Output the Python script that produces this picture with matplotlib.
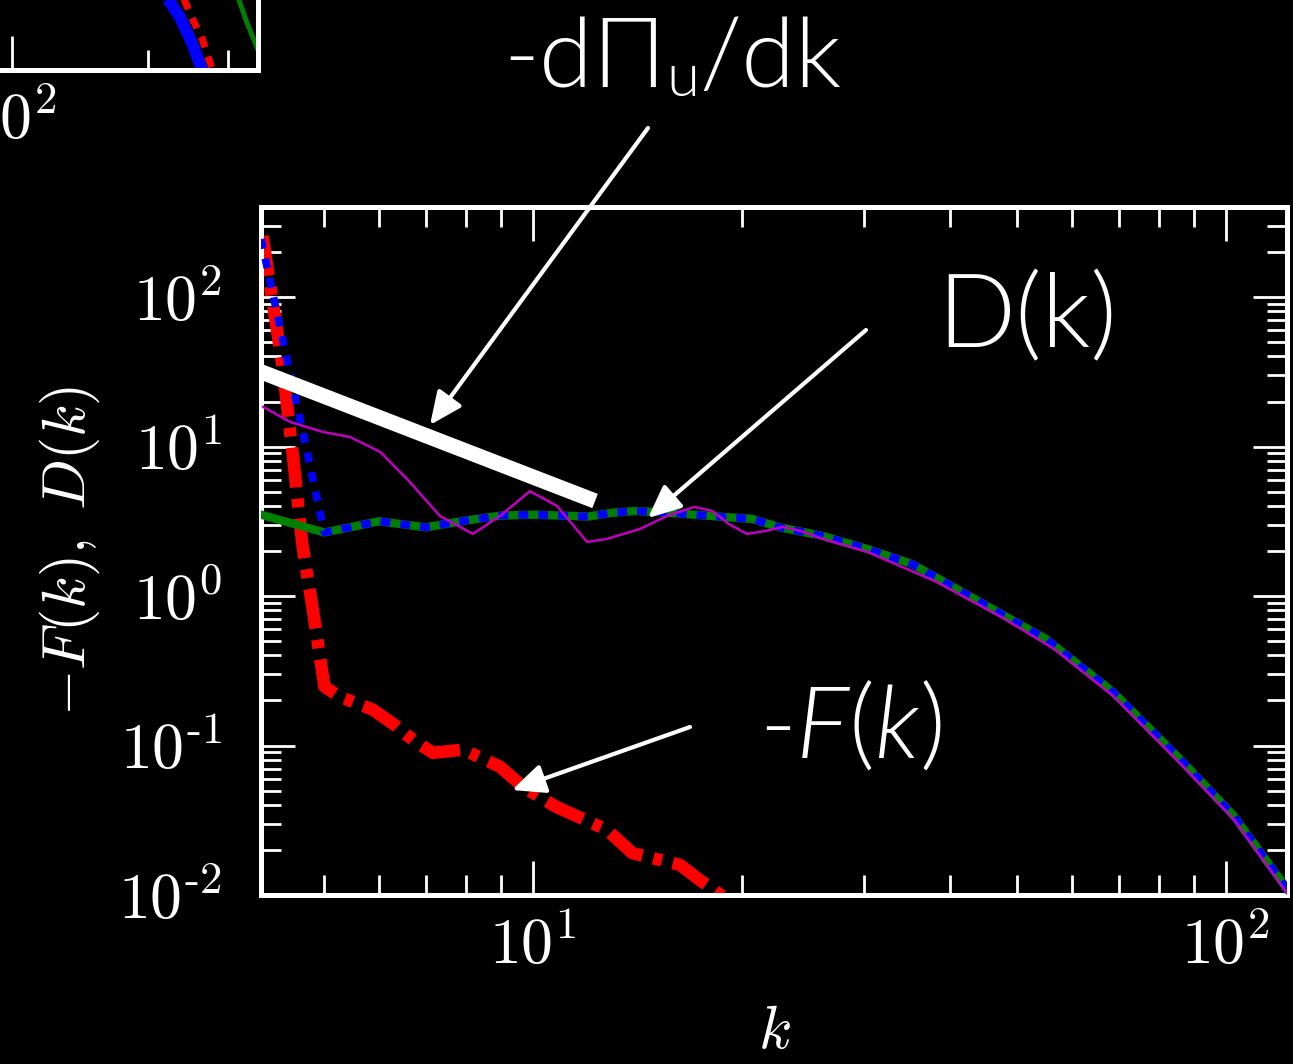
import os
import numpy as np
import matplotlib
matplotlib.use('Agg')
import matplotlib.pyplot as plt
from matplotlib.ticker import LogLocator, NullFormatter, FuncFormatter
from matplotlib.font_manager import FontProperties, fontManager

# ---------------- data ----------------
# main panel
k_D = [4.05, 5, 6, 7, 8, 9, 10, 11, 12, 13, 14, 15, 16.8, 18.5, 20.7, 22.7,
       26.2, 30.4, 35.2, 43.4, 55.0, 68.7, 85.8, 102.7, 122.5]
D_green = [3.5, 2.66, 3.16, 2.88, 3.2, 3.45, 3.5, 3.45, 3.4, 3.6, 3.7, 3.65, 3.52,
           3.4, 3.28, 2.88, 2.52, 2.06, 1.64, 0.954, 0.515, 0.228, 0.0813, 0.0337, 0.011]
D_blue = [244, 2.66, 3.16, 2.88, 3.2, 3.45, 3.5, 3.45, 3.4, 3.6, 3.7, 3.65, 3.52,
          3.4, 3.28, 2.88, 2.52, 2.06, 1.64, 0.954, 0.515, 0.228, 0.0813, 0.0337, 0.011]

k_F = [4.07, 4.35, 4.5, 4.65, 4.81, 5.0, 5.26, 5.87, 6.36, 6.71, 7.17, 7.93, 8.96,
       9.67, 10.8, 12.8, 13.9, 15.3, 16.3, 17.4, 18.5, 20.0]
F_red = [256, 34.5, 8.87, 2.15, 0.813, 0.248, 0.212, 0.174, 0.134, 0.109, 0.0894,
         0.0938, 0.0722, 0.053, 0.0389, 0.0272, 0.0191, 0.0171, 0.0159, 0.0126, 0.0103, 0.0078]

k_M = [4.08, 4.46, 4.98, 5.44, 6.02, 6.58, 7.34, 8.19, 8.96, 9.90, 10.83, 11.97, 12.79,
       14.27, 15.61, 17.08, 18.13, 19.18, 20.36, 21.61, 22.95, 24.36, 26.2, 30.4, 38.0,
       47.5, 56.6, 68.7, 85.8, 102.7, 122.5]
M_magenta = [18.4, 14.6, 12.5, 11.6, 9.19, 6.06, 3.43, 2.60, 3.43, 5.03, 4.00, 2.30, 2.41,
             2.81, 3.43, 3.94, 3.71, 3.03, 2.60, 2.72, 2.90, 2.72, 2.41, 1.97, 1.26,
             0.72, 0.44, 0.215, 0.076, 0.032, 0.0103]

k_slope = [4.0, 12.29]
y_slope = [32.3, 4.32]

# partially visible neighbouring panel (top-left corner)
inset_k_blue = [216, 235, 250, 266]
inset_blue = [8.3e-4, 4.2e-4, 2.08e-4, 8.7e-5]
inset_k_red = [238, 250, 263, 280]
inset_red = [7.6e-4, 4.1e-4, 2.38e-4, 8.7e-5]
inset_k_green = [316, 331, 345, 357]
inset_green = [7.2e-4, 3.57e-4, 2.08e-4, 1.31e-4]

# ---------------- style ----------------
plt.rcParams['font.family'] = 'cmr10'
plt.rcParams['mathtext.fontset'] = 'cm'
plt.rcParams['axes.unicode_minus'] = False
plt.rcParams['axes.formatter.use_mathtext'] = True

W, H = 1293, 1064
fig = plt.figure(figsize=(W / 100, H / 100), dpi=100, facecolor='black')


def logfmt(v, pos):
    e = int(round(np.log10(v)))
    if e < 0:
        return r'$\mathdefault{10^{\text{-}%d}}$' % (-e)
    return r'$\mathdefault{10^{%d}}$' % e


def style_axes(ax):
    ax.set_facecolor('black')
    for s in ax.spines.values():
        s.set_color('white')
        s.set_linewidth(3.6)
    ax.tick_params(which='both', direction='in', top=True, right=True,
                   color='white', labelcolor='white', width=2, labelsize=46)
    ax.tick_params(which='major', length=24.5)
    ax.tick_params(which='minor', length=14.4)
    ax.tick_params(axis='x', which='both', pad=16)
    ax.tick_params(axis='y', which='both', pad=28)
    ax.xaxis.set_minor_locator(LogLocator(subs=range(2, 10)))
    ax.yaxis.set_minor_locator(LogLocator(subs=range(2, 10)))
    ax.xaxis.set_minor_formatter(NullFormatter())
    ax.yaxis.set_minor_formatter(NullFormatter())
    ax.xaxis.set_major_formatter(FuncFormatter(logfmt))
    ax.yaxis.set_major_formatter(FuncFormatter(logfmt))


# ---- neighbouring panel, only its lower-right corner is visible ----
ax0 = fig.add_axes([-440 / W, 1 - 70 / H, 698 / W, 340 / H])
ax0.set_xscale('log')
ax0.set_yscale('log')
ax0.plot(inset_k_blue, inset_blue, color='blue', lw=8.6, solid_capstyle='butt')
ax0.plot(inset_k_red, inset_red, color='red', lw=5, dashes=(1.6, 1.4))
ax0.plot(inset_k_green, inset_green, color='green', lw=3.5)
ax0.set_xlim(10, 350)
ax0.set_ylim(1e-4, 1e0)
style_axes(ax0)

# ---- main panel ----
ax = fig.add_axes([261 / W, 1 - 895 / H, (1287 - 261) / W, (895 - 207) / H])
ax.set_xscale('log')
ax.set_yscale('log')
ax.plot(k_F, F_red, color='red', lw=9, dashes=(3.2, 0.9, 0.7, 0.9), zorder=2)
ax.plot(k_D, D_green, color='green', lw=6, zorder=3)
ax.plot(k_D, D_blue, color='blue', lw=5.5, dashes=(1.3, 1.3), zorder=4)
ax.plot(k_M, M_magenta, color='m', lw=1.8, zorder=5)
ax.plot(k_slope, y_slope, color='white', lw=11, solid_capstyle='butt', zorder=6)
ax.set_xlim(4.05, 122.5)
ax.set_ylim(1e-2, 400)
style_axes(ax)
ax.set_xlabel(r'$k$', color='white', fontsize=44, labelpad=20)
ax.set_ylabel(r'$-F(k),\ D(k)$', color='white', fontsize=43, labelpad=12)


# ---- annotation fonts ----
def pick_font(names, **fallback):
    for f in fontManager.ttflist:
        if os.path.basename(f.fname) in names:
            return FontProperties(fname=f.fname)
    return FontProperties(**fallback)


fp_up = pick_font(['Lato-Light.ttf'], family='Lato', weight='normal')
fp_it = pick_font(['Lato-LightItalic.ttf'], family='Lato', weight='normal', style='italic')

renderer = fig.canvas.get_renderer()


def draw_pieces(xc, base, pieces):
    """Place text pieces side by side, centred at xc, on baseline 'base' (px from top)."""
    items = []
    for s, fp, size, dy in pieces:
        p = fp.copy()
        p.set_size(size)
        t = fig.text(0, 0, s, fontproperties=p, color='white', ha='left', va='baseline')
        w = t.get_window_extent(renderer).width
        items.append((t, w, dy))
    x = xc - sum(w for _, w, _ in items) / 2
    for t, w, dy in items:
        t.set_position((x / W, (H - base - dy) / H))
        x += w


BIG, SUB = 72, 43
draw_pieces(672, 87, [('-dΠ', fp_up, 70, 0), ('u', fp_up, SUB, 9), ('/dk', fp_up, 70, 0)])
draw_pieces(1027, 347, [('D(k)', fp_up, 74, 0)])
draw_pieces(852, 758, [('-', fp_up, BIG, 0), ('F', fp_it, BIG, 0), ('(', fp_up, BIG, 0),
                       ('k', fp_it, BIG, 0), (')', fp_up, BIG, 0)])

arrow_kw = dict(arrowstyle='-|>,head_length=1.0,head_width=0.45', color='white',
                lw=3, mutation_scale=20, shrinkA=0, shrinkB=0)
for tail, tip in [((648, 128), (430, 425)),
                  ((866, 330), (648, 518)),
                  ((690, 727), (512, 790))]:
    ax.annotate('', xy=(tip[0], H - tip[1]), xytext=(tail[0], H - tail[1]),
                xycoords='figure pixels', textcoords='figure pixels',
                arrowprops=arrow_kw, zorder=10)

fig.savefig('out.png', dpi=100, facecolor='black')
